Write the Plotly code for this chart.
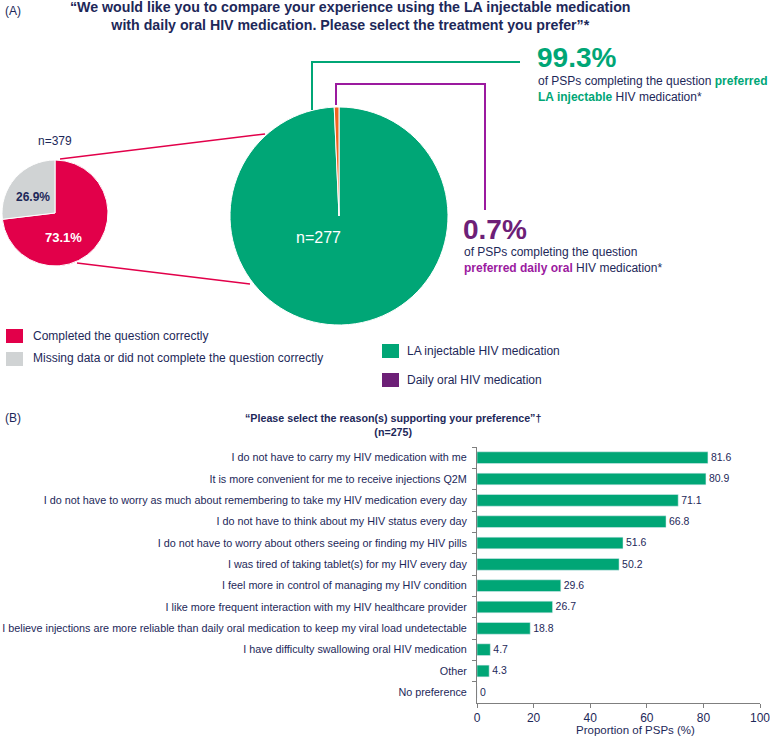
import plotly.graph_objects as go

# ---------- data ----------
completion_labels = ["Completed the question correctly",
                     "Missing data or did not complete the question correctly"]
completion_pct = [73.1, 26.9]
completion_n = 379

preference_labels = ["LA injectable HIV medication", "Daily oral HIV medication"]
preference_pct = [99.3, 0.7]
preference_n = 277

reasons = [
    "I do not have to carry my HIV medication with me",
    "It is more convenient for me to receive injections Q2M",
    "I do not have to worry as much about remembering to take my HIV medication every day",
    "I do not have to think about my HIV status every day",
    "I do not have to worry about others seeing or finding my HIV pills",
    "I was tired of taking tablet(s) for my HIV every day",
    "I feel more in control of managing my HIV condition",
    "I like more frequent interaction with my HIV healthcare provider",
    "I believe injections are more reliable than daily oral medication to keep my viral load undetectable",
    "I have difficulty swallowing oral HIV medication",
    "Other",
    "No preference",
]
reason_pct = [81.6, 80.9, 71.1, 66.8, 51.6, 50.2, 29.6, 26.7, 18.8, 4.7, 4.3, 0]
reason_n = 275
x_ticks = [0, 20, 40, 60, 80, 100]

# ---------- styling ----------
W, H = 770, 738
NAVY = "#1d2859"
GREEN = "#00a676"
RED = "#e2004a"
GREY = "#d0d3d4"
ORANGE = "#ef6420"
PURPLE = "#6d2077"
MAGENTA = "#9b1a9f"
AXIS = "#7f7f7f"
FONT = "Liberation Sans, Arial, sans-serif"


def px(x):
    return x / W


def py(y):
    return 1 - y / H


fig = go.Figure()

# small pie (all respondents)
fig.add_trace(go.Pie(
    values=completion_pct, labels=completion_labels, sort=False,
    direction="clockwise", rotation=0, textinfo="none", hoverinfo="label+percent",
    marker=dict(colors=[RED, GREY], line=dict(color="white", width=1)),
    domain=dict(x=[px(2), px(108)], y=[py(266), py(160)]),
    showlegend=False,
))

# big pie (those who completed the question)
fig.add_trace(go.Pie(
    values=preference_pct, labels=preference_labels, sort=False,
    direction="clockwise", rotation=0, textinfo="none", hoverinfo="label+percent",
    marker=dict(colors=[GREEN, ORANGE], line=dict(color="white", width=1)),
    domain=dict(x=[px(230), px(448)], y=[py(325), py(107)]),
    showlegend=False,
))

# bar chart (B)
fig.add_trace(go.Bar(
    x=reason_pct, y=reasons, orientation="h",
    marker=dict(color=GREEN), width=0.55,
    text=["%g" % v for v in reason_pct], textposition="outside",
    textfont=dict(color=NAVY, size=12.5), cliponaxis=False,
    showlegend=False,
))

shapes = []
# connectors small pie -> big pie
shapes.append(dict(type="line", xref="paper", yref="paper",
                   x0=px(60), y0=py(159), x1=px(265), y1=py(134),
                   line=dict(color=RED, width=1.5)))
shapes.append(dict(type="line", xref="paper", yref="paper",
                   x0=px(77), y0=py(263), x1=px(250), y1=py(284),
                   line=dict(color=RED, width=1.5)))
# callout lines
shapes.append(dict(type="path", xref="paper", yref="paper",
                   path="M %f,%f L %f,%f L %f,%f" % (px(312), py(110), px(312), py(62), px(520), py(62)),
                   line=dict(color=GREEN, width=2)))
shapes.append(dict(type="path", xref="paper", yref="paper",
                   path="M %f,%f L %f,%f L %f,%f L %f,%f" % (px(336), py(105), px(336), py(84),
                                                              px(485), py(84), px(485), py(210)),
                   line=dict(color=MAGENTA, width=2)))
# legend swatches
for (x0, y0, col) in [(6, 329, RED), (6, 352, GREY), (382, 344, GREEN), (382, 373, PURPLE)]:
    shapes.append(dict(type="rect", xref="paper", yref="paper",
                       x0=px(x0), x1=px(x0 + 17), y0=py(y0 + 14), y1=py(y0),
                       fillcolor=col, line=dict(width=0)))

ann = []


def note(x, y, text, size=12, color=NAVY, xanchor="left", align="left"):
    ann.append(dict(x=px(x), y=py(y), xref="paper", yref="paper", text=text,
                    showarrow=False, xanchor=xanchor, yanchor="middle", align=align,
                    font=dict(size=size, color=color, family=FONT)))


note(3, 11, "(A)", 12)
note(350, 16, "<b>\u201cWe would like you to compare your experience using the LA injectable medication<br>"
              "with daily oral HIV medication. Please select the treatment you prefer\u201d*</b>",
     14.2, xanchor="center", align="center")
note(55, 141, "n=%d" % completion_n, 12, xanchor="center")
note(33, 197, "<b>%.1f%%</b>" % completion_pct[1], 12, NAVY, xanchor="center")
note(63, 237, "<b>%.1f%%</b>" % completion_pct[0], 13, "white", xanchor="center")
note(318, 238, "n=%d" % preference_n, 16, "white", xanchor="center")

note(535, 58, "<b>%.1f%%</b>" % preference_pct[0], 28, GREEN)
note(536, 89, "of PSPs completing the question <span style='color:%s'><b>preferred</b></span><br>"
              "<span style='color:%s'><b>LA injectable</b></span> HIV medication*" % (GREEN, GREEN), 12)
note(461, 229, "<b>%.1f%%</b>" % preference_pct[1], 28, PURPLE)
note(462, 260, "of PSPs completing the question<br>"
              "<span style='color:%s'><b>preferred daily oral</b></span> HIV medication*" % MAGENTA, 12)

note(31, 336, completion_labels[0], 12)
note(31, 358, completion_labels[1], 12)
note(405, 351, preference_labels[0], 12)
note(405, 380, preference_labels[1], 12)

note(3, 418, "(B)", 12)
note(393, 425, "<b>\u201cPlease select the reason(s) supporting your preference\u201d\u2020<br>(n=%d)</b>" % reason_n,
     10.7, xanchor="center", align="center")
note(635, 730, "Proportion of PSPs (%)", 11.5, xanchor="center")

fig.update_layout(
    width=W, height=H,
    margin=dict(l=0, r=0, t=0, b=0),
    paper_bgcolor="white", plot_bgcolor="white",
    font=dict(family=FONT, color=NAVY, size=12),
    shapes=shapes, annotations=ann,
    xaxis=dict(domain=[px(477), px(760)], range=[0, 100], tickvals=x_ticks,
               showline=True, linecolor=AXIS, linewidth=1, ticks="outside",
               ticklen=4, tickcolor=AXIS, showgrid=False, zeroline=False,
               ticklabeloverflow="allow", automargin=False,
               tickfont=dict(size=12, color=NAVY), anchor="y"),
    yaxis=dict(domain=[py(703), py(447)], autorange="reversed",
               showline=True, linecolor=AXIS, linewidth=1, ticks="outside",
               tickson="boundaries", ticklen=4, tickcolor=AXIS, showgrid=False,
               ticklabelstandoff=7, ticklabeloverflow="allow", automargin=False,
               tickfont=dict(size=10.8, color=NAVY), anchor="x"),
)

# drop the default 8px body margin so the figure sits at the page origin
fig.write_html("out.html", config={"displayModeBar": False},
               post_script="document.body.style.margin='0';")
